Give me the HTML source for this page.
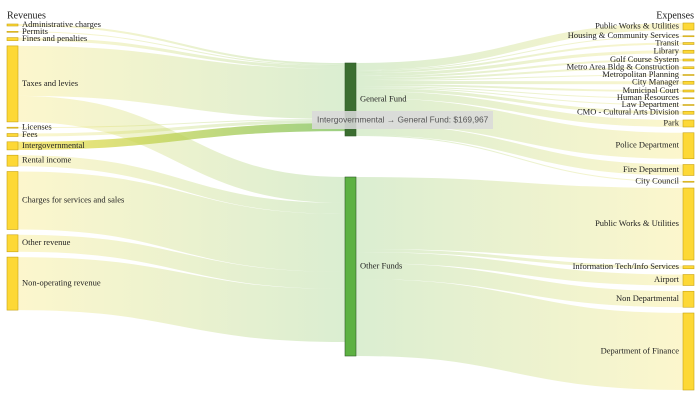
<!DOCTYPE html>
<html><head><meta charset="utf-8"><style>
html,body{margin:0;padding:0;background:#fff;}
svg{display:block;font-family:"Liberation Serif",serif;}
</style></head><body>
<svg id="c" width="700" height="400"></svg>
<script>
const revenues=["Administrative charges","Permits","Fines and penalties","Taxes and levies","Licenses","Fees","Intergovernmental","Rental income","Charges for services and sales","Other revenue","Non-operating revenue"];
const funds=["General Fund","Other Funds"];
const expenses=["Public Works & Utilities","Housing & Community Services","Transit","Library","Golf Course System","Metro Area Bldg & Construction","Metropolitan Planning","City Manager","Municipal Court","Human Resources","Law Department","CMO - Cultural Arts Division","Park","Police Department","Fire Department","City Council","Public Works & Utilities ","Information Tech/Info Services","Airport","Non Departmental","Department of Finance"];
// values in thousands of dollars
const revToGeneral=[42,21,63,1050,21,63,170,0,0,0,0];
const revToOther=[0,0,0,546,0,0,0,231,1218,357,1113];
const generalToExp=[147,21,42,63,42,42,21,63,42,21,21,63,147,546,231,21,0,0,0,0,0];
const otherToExp=[0,0,0,0,0,0,0,0,0,0,0,0,0,0,0,0,1512,63,231,336,1617];

const NS="http://www.w3.org/2000/svg";
const svg=document.getElementById('c');
const K=1/21; // px per thousand
function el(t,a,p){const e=document.createElementNS(NS,t);for(const k in a)e.setAttribute(k,a[k]);(p||svg).appendChild(e);return e;}
const defs=el('defs',{});
const sum=a=>a.reduce((s,v)=>s+v,0);
const revVal=revenues.map((_,i)=>revToGeneral[i]+revToOther[i]);
const fundIn=[sum(revToGeneral),sum(revToOther)];
const fundOut=[sum(generalToExp),sum(otherToExp)];
const fundVal=fundIn.map((v,i)=>Math.max(v,fundOut[i]));
const expVal=expenses.map((_,i)=>generalToExp[i]+otherToExp[i]);
function stack(vals,top,pad){let y=top;return vals.map(v=>{const h=Math.max(v*K,1);const r={y,h};y+=h+pad;return r;});}
const L=stack(revVal,24,5.3), M=stack(fundVal,63,41), R=stack(expVal,23,5.75);
const xL=[7,18], xM=[345,356], xR=[683,694];
let gid=0;
function ribbon(x0,y0,x1,y1,w,c0,c1,op,name){
  const id='g'+(gid++);
  const g=el('linearGradient',{id,gradientUnits:'userSpaceOnUse',x1:x0,y1:0,x2:x1,y2:0},defs);
  el('stop',{offset:'0','stop-color':c0},g);el('stop',{offset:'1','stop-color':c1},g);
  const xm=(x0+x1)/2;
  const p=el('path',{d:`M${x0},${y0}C${xm},${y0} ${xm},${y1} ${x1},${y1}`,fill:'none',stroke:`url(#${id})`,'stroke-width':Math.max(w,1),'stroke-opacity':op});
  
  
  return p;
}
const Y='#f5e04a', G='#7cc05a';
const revOff=L.map(n=>n.y), fundInOff=M.map(n=>n.y), fundOutOff=M.map(n=>n.y), expOff=R.map(n=>n.y);
const fundArr=[revToGeneral,revToOther];
let hl=null;
revenues.forEach((r,i)=>{[0,1].forEach(f=>{const v=fundArr[f][i];if(!v)return;const w=v*K;
  const y0=revOff[i]+w/2,y1=fundInOff[f]+w/2;revOff[i]+=w;fundInOff[f]+=w;
  const hi=(i===6&&f===0);
  const p=ribbon(xL[1],y0,xM[0],y1,w,Y,G,hi?0.75:0.28,'link-'+i+'-'+f);
  if(hi)hl=p;});});
const expArr=[generalToExp,otherToExp];
[0,1].forEach(f=>{expenses.forEach((e,j)=>{const v=expArr[f][j];if(!v)return;const w=v*K;
  const y0=fundOutOff[f]+w/2,y1=expOff[j]+w/2;fundOutOff[f]+=w;expOff[j]+=w;
  ribbon(xM[1],y0,xR[0],y1,w,G,Y,0.28,'link-fund'+f+'-exp'+j);});});
if(hl)svg.appendChild(hl);
function node(x,n,fill,stroke,name){const r=el('rect',{x:x[0],y:n.y,width:x[1]-x[0],height:n.h,fill,stroke,'stroke-width':0.6});
  }
function label(x,y,t,anchor,name,size){const e=el('text',{x,y,'font-size':size||8.5,'text-anchor':anchor,'dominant-baseline':'middle',fill:'#222'});e.textContent=t;
  }
revenues.forEach((r,i)=>{node(xL,L[i],'#fdd835','#c8a415','node-revenue-'+i);label(22,L[i].y+L[i].h/2,r,'start','label-revenue-'+i);});
const fc=['#3b6e30','#5db142'];
funds.forEach((f,i)=>{node(xM,M[i],fc[i],'#2f5a27','node-fund-'+i);label(360,M[i].y+M[i].h/2,f,'start','label-fund-'+i);});
expenses.forEach((e,j)=>{node(xR,R[j],'#fdd835','#c8a415','node-expense-'+j);label(679,R[j].y+R[j].h/2,e.trim(),'end','label-expense-'+j);});
label(7,16,'Revenues','start','revenues-title',10);
label(694,16,'Expenses','end','expenses-title',10);
const tg=el('g',{});
el('rect',{x:312,y:111,width:181,height:18,fill:'#d9d9d9','fill-opacity':0.88},tg);
const tt=el('text',{x:317,y:120.5,'font-size':8.4,'dominant-baseline':'middle',fill:'#555','font-family':'Liberation Sans, sans-serif'},tg);
tt.textContent='Intergovernmental \u2192 General Fund: $169,967';
</script>
</body></html>
